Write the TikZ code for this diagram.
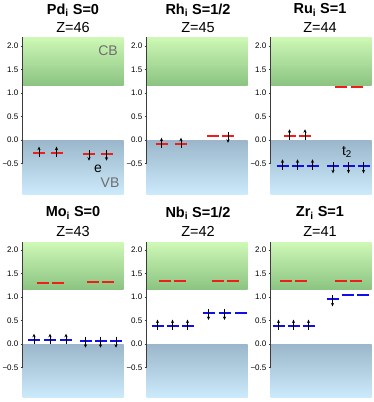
\documentclass[tikz,border=0pt]{standalone}
\usepackage{fontspec}
\setmainfont{Liberation Sans}
\usetikzlibrary{arrows.meta}
\definecolor{cbtop}{RGB}{206,248,182}
\definecolor{cbbot}{RGB}{140,196,130}
\definecolor{vbtop}{RGB}{155,182,202}
\definecolor{vbbot}{RGB}{203,234,251}
\definecolor{lvred}{RGB}{240,30,25}
\definecolor{lvblue}{RGB}{15,15,235}
\definecolor{axgray}{RGB}{60,60,60}
\definecolor{bandtxt}{RGB}{110,110,110}
\tikzset{
 lvl/.style={line width=1.9pt},
 arr/.style={line width=0.75pt,-{Stealth[length=3.5pt,width=3.2pt]}},
 ticklab/.style={font=\fontsize{8}{8}\selectfont, anchor=east, inner sep=0pt},
 ttl/.style={font=\fontsize{14.5}{15}\selectfont\bfseries, inner sep=0pt},
 zlab/.style={font=\fontsize{14.5}{15}\selectfont, inner sep=0pt},
 band/.style={font=\fontsize{14}{14}\selectfont, text=bandtxt, inner sep=0pt},
 lab/.style={font=\fontsize{14}{14}\selectfont, inner sep=0pt},
}
\newcommand\panelbg[3]{%
 \shade[top color=cbtop,bottom color=cbbot] (0,1.17) rectangle (101,#1);
 \shade[top color=vbtop,bottom color=vbbot] (0,#2) rectangle (101,0);
 \draw[axgray,line width=0.8pt] (0,#1) -- (0,-0.5);
 \foreach \v/\t [count=\i] in {2/2.0,1.5/1.5,1/1.0,0.5/0.5,0/0.0,-0.5/{−0.5}} {
  \draw[axgray,line width=0.6pt] (-2,\v) -- (0,\v);
  \node[ticklab] (#3t\i) at (-4,\v) {\t};
 }
}
\newcommand\levn[3]{\draw[lvl,draw=#1] (#2-6,#3) -- (#2+6,#3);}
\newcommand\levu[3]{\levn{#1}{#2}{#3}\draw[arr] (#2,#3) ++(0pt,-4pt) -- ++(0pt,10.5pt);}
\newcommand\levd[3]{\levn{#1}{#2}{#3}\draw[arr] (#2,#3) ++(0pt,4pt) -- ++(0pt,-11pt);}
\begin{document}
\begin{tikzpicture}[x=1pt,y=-1pt]
\path[use as bounding box,fill=white] (0,0) rectangle (374,402);
% titles
\node[ttl] (t1) at (73,10) {Pd\textsubscript{i} S=0};
\node[zlab] (z1) at (73,27.5) {Z=46};
\node[ttl] (t2) at (198,10) {Rh\textsubscript{i} S=1/2};
\node[zlab] (z2) at (198,27.5) {Z=45};
\node[ttl] (t3) at (320,10) {Ru\textsubscript{i} S=1};
\node[zlab] (z3) at (320,27.5) {Z=44};
\node[ttl] (t4) at (73,213) {Mo\textsubscript{i} S=0};
\node[zlab] (z4) at (73,231.5) {Z=43};
\node[ttl] (t5) at (198,213) {Nb\textsubscript{i} S=1/2};
\node[zlab] (z5) at (198,231.5) {Z=42};
\node[ttl] (t6) at (320,213) {Zr\textsubscript{i} S=1};
\node[zlab] (z6) at (320,231.5) {Z=41};
% Pd
\begin{scope}[shift={(22.5,140)},y=47pt]
 \panelbg{2.19}{-1.15}{pd}
 \levu{lvred}{16.5}{-0.28}\levu{lvred}{34}{-0.28}
 \levd{lvred}{66.5}{-0.29}\levd{lvred}{84}{-0.29}
 \node[lab] (e) at (75.5,-0.62) {e};
 \node[band] (cb) at (85.5,1.91) {CB};
 \node[band] (vb) at (87.5,-0.91) {VB};
\end{scope}
% Rh
\begin{scope}[shift={(146.5,140)},y=47pt]
 \panelbg{2.19}{-1.15}{rh}
 \levu{lvred}{15}{-0.09}\levu{lvred}{34.5}{-0.09}
 \levn{lvred}{66.5}{0.09}\levd{lvred}{81.5}{0.09}
\end{scope}
% Ru
\begin{scope}[shift={(270.5,140)},y=47pt]
 \panelbg{2.19}{-1.15}{ru}
 \levu{lvred}{19}{0.09}\levu{lvred}{34.5}{0.09}
 \levn{lvred}{70.5}{1.13}\levn{lvred}{86}{1.13}
 \levu{lvblue}{12}{-0.55}\levu{lvblue}{27}{-0.55}\levu{lvblue}{42}{-0.55}
 \levd{lvblue}{62.5}{-0.56}\levd{lvblue}{78}{-0.56}\levd{lvblue}{93}{-0.56}
 \node[lab] (t2lab) at (76.5,-0.26) {t\textsubscript{2}};
\end{scope}
% Mo
\begin{scope}[shift={(22.5,344)},y=47pt]
 \panelbg{2.16}{-1.13}{mo}
 \levn{lvred}{20.5}{1.30}\levn{lvred}{35.5}{1.30}
 \levn{lvred}{70.5}{1.32}\levn{lvred}{85.5}{1.32}
 \levu{lvblue}{11.5}{0.08}\levu{lvblue}{27.5}{0.08}\levu{lvblue}{43.5}{0.08}
 \levd{lvblue}{63}{0.07}\levd{lvblue}{78}{0.07}\levd{lvblue}{93.5}{0.07}
\end{scope}
% Nb
\begin{scope}[shift={(146.5,344)},y=47pt]
 \panelbg{2.16}{-1.13}{nb}
 \levn{lvred}{18.5}{1.35}\levn{lvred}{33.5}{1.35}
 \levn{lvred}{71}{1.34}\levn{lvred}{86}{1.34}
 \levu{lvblue}{11}{0.38}\levu{lvblue}{26}{0.38}\levu{lvblue}{41}{0.38}
 \levd{lvblue}{62}{0.66}\levd{lvblue}{78}{0.66}\levn{lvblue}{94}{0.66}
\end{scope}
% Zr
\begin{scope}[shift={(270.5,344)},y=47pt]
 \panelbg{2.16}{-1.13}{zr}
 \levn{lvred}{15.5}{1.35}\levn{lvred}{30.5}{1.35}
 \levn{lvred}{70.5}{1.34}\levn{lvred}{85.5}{1.34}
 \levu{lvblue}{8}{0.38}\levu{lvblue}{23}{0.38}\levu{lvblue}{38}{0.38}
 \levd{lvblue}{62}{0.95}
 \levn{lvblue}{77}{1.05}\levn{lvblue}{92.5}{1.05}
\end{scope}
\end{tikzpicture}
\end{document}
